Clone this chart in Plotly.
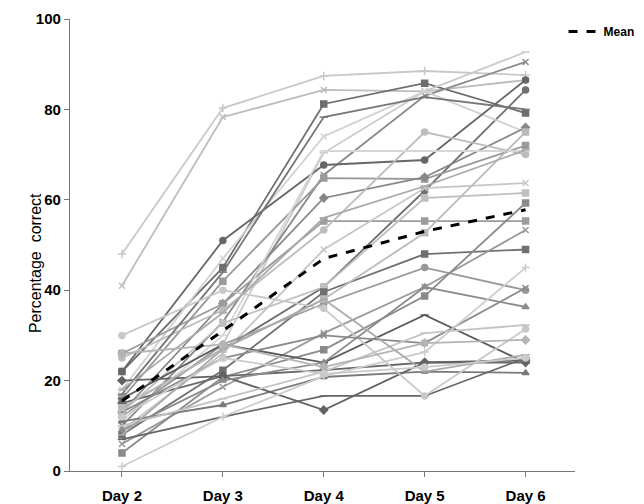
import plotly.graph_objects as go

days = ["Day 2", "Day 3", "Day 4", "Day 5", "Day 6"]

s01 = [48, 80.3, 87.4, 88.5, 87.6]
s02 = [41, 78.3, 84.3, 84.0, 86.5]
s03 = [22, 45, 81.2, 85.8, 79.2]
s04 = [12, 28, 70.4, 84.0, 92.7]
s05 = [10, 33, 65.5, 83, 90.5]
s06 = [14, 27, 40.7, 62, 84.3]
s07 = [18, 47, 74, 84, 75]
s08 = [22, 51, 67.7, 68.8, 86.5]
s09 = [16, 42, 64.8, 64.6, 72]
s10 = [13, 37, 60.4, 65, 76]
s11 = [26, 37, 55.3, 55.3, 55.3]
s12 = [25, 35.6, 53.3, 75, 70]
s13 = [17, 44, 78.3, 82.7, 80]
s14 = [11, 30, 70.8, 70.8, 70.8]
s15 = [9, 26, 49, 62.6, 63.7]
s16 = [13, 32.7, 40.7, 60.4, 61.5]
s17 = [8, 22.3, 39.6, 48, 49]
s18 = [12, 28, 37, 45, 40]
s19 = [6, 18.6, 30.5, 40.7, 53.3]
s20 = [4, 20.8, 26.8, 38.7, 59.3]
s21 = [16, 28, 24, 34.5, 24]
s22 = [15, 21, 22.3, 24, 24]
s23 = [11, 14.6, 20.8, 22, 21.7]
s24 = [7, 12, 16.6, 16.6, 25]
s25 = [20, 21, 13.5, 24, 24.5]
s26 = [30, 40, 36, 16.6, 31.4]
s27 = [9, 20, 24, 40.7, 36.3]
s28 = [13, 25, 30, 28.3, 40.5]
s29 = [1, 12, 21, 26.3, 45]
s30 = [10, 16, 22, 30.5, 32.3]
s31 = [14, 27, 38, 52.7, 75]
s32 = [18, 35, 56, 63, 71]
s33 = [8, 27, 38, 22, 25.7]
s34 = [26, 28, 23, 28.3, 29]
s35 = [12, 25, 21.5, 23, 25]

mean_vals = [15.5, 31, 47, 53, 57.8]

series = [s01, s02, s03, s04, s05, s06, s07, s08, s09, s10, s11, s12, s13, s14, s15,
          s16, s17, s18, s19, s20, s21, s22, s23, s24, s25, s26, s27, s28, s29, s30,
          s31, s32, s33, s34, s35]
colors = ["#c8c8c8", "#bdbdbd", "#6e6e6e", "#cacaca", "#8a8a8a", "#707070", "#d2d2d2",
          "#666666", "#9a9a9a", "#878787", "#9c9c9c", "#bcbcbc", "#777777", "#d6d6d6",
          "#c6c6c6", "#c0c0c0", "#707070", "#999999", "#9a9a9a", "#8a8a8a", "#5a5a5a",
          "#686868", "#7a7a7a", "#666666", "#626262", "#c8c8c8", "#8c8c8c", "#8a8a8a",
          "#cccccc", "#c4c4c4", "#bbbbbb", "#aaaaaa", "#aaaaaa", "#b4b4b4", "#cacaca"]
symbols = ["cross-thin", "x-thin", "square", "line-ew", "x-thin", "circle", "x-thin",
           "circle", "square", "diamond", "square", "circle", "line-ew", "line-ew",
           "x-thin", "square", "square", "circle", "x-thin", "square", "line-ew",
           "diamond", "triangle-up", "line-ew", "diamond", "circle", "triangle-up",
           "x-thin", "cross-thin", "line-ew", "square", "line-ew", "line-ew", "diamond",
           "circle"]

fig = go.Figure()
for vals, col, sym in zip(series, colors, symbols):
    fig.add_trace(go.Scatter(
        x=days, y=vals, mode="lines+markers",
        line=dict(color=col, width=1.8),
        marker=dict(symbol=sym, size=6, color=col, line=dict(color=col, width=1.5)),
        showlegend=False, hoverinfo="skip"))

fig.add_trace(go.Scatter(
    x=days, y=mean_vals, mode="lines", name="Mean",
    line=dict(color="black", width=3, dash="dash"), showlegend=True))

# page has an 8px body margin, so the figure is sized and offset to compensate
fig.update_layout(
    width=636, height=496,
    margin=dict(l=62, r=69, t=11, b=33, autoexpand=False),
    plot_bgcolor="white", paper_bgcolor="white",
    font=dict(family="Liberation Sans, Arial", color="black", size=13),
    legend=dict(xref="container", yref="container", x=0.993, y=0.982,
                xanchor="right", yanchor="top",
                font=dict(size=12, weight="bold"), bgcolor="rgba(0,0,0,0)",
                itemwidth=30, tracegroupgap=0),
    xaxis=dict(type="category", range=[-0.515, 4.49], showgrid=False,
               showline=True, linecolor="#777777", linewidth=1.2,
               ticks="outside", ticklen=5, tickcolor="#777777",
               ticklabelstandoff=6,
               tickfont=dict(size=15, weight="bold"), zeroline=False),
    yaxis=dict(range=[0, 100], tickvals=[0, 20, 40, 60, 80, 100],
               showgrid=False, showline=True, linecolor="#777777", linewidth=1.2,
               ticks="outside", ticklen=5, tickcolor="#777777",
               tickfont=dict(size=15, weight="bold"), zeroline=False),
    annotations=[dict(text="Percentage  correct", xref="paper", yref="paper",
                      x=-0.0693, y=0.46, xanchor="center", yanchor="middle",
                      textangle=-90, showarrow=False,
                      font=dict(size=16, color="black"))],
)

fig.write_html("out.html")
